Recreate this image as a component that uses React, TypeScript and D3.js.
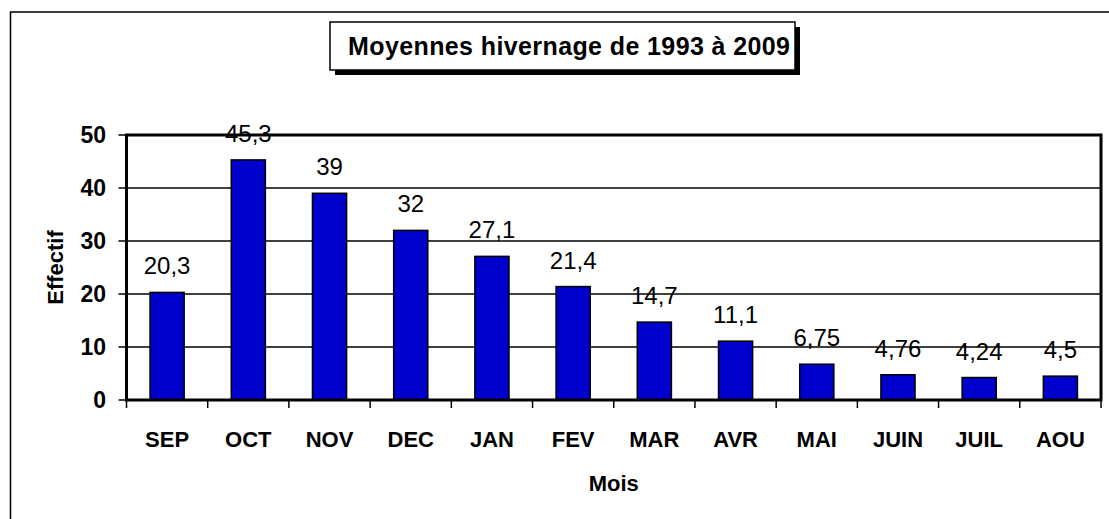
import { useEffect, useRef } from 'react';
import * as d3 from 'd3';

const months = ['SEP', 'OCT', 'NOV', 'DEC', 'JAN', 'FEV', 'MAR', 'AVR', 'MAI', 'JUIN', 'JUIL', 'AOU'];
const values = [20.3, 45.3, 39, 32, 27.1, 21.4, 14.7, 11.1, 6.75, 4.76, 4.24, 4.5];
const valueLabels = ['20,3', '45,3', '39', '32', '27,1', '21,4', '14,7', '11,1', '6,75', '4,76', '4,24', '4,5'];
const yTicks = [0, 10, 20, 30, 40, 50];

const W = 1109;
const H = 519;
const FONT = '"Liberation Sans", Arial, sans-serif';

export default function App() {
  const svgRef = useRef<SVGSVGElement>(null);

  useEffect(() => {
    document.body.style.margin = '0';
    if (!svgRef.current) return;
    const svg = d3.select(svgRef.current);
    svg.selectAll('*').remove();

    const left = 126.5;
    const right = 1101;
    const top = 135;
    const bottom = 400;

    // outer frame
    svg.append('rect')
      .attr('x', 10.5).attr('y', 12)
      .attr('width', W).attr('height', H)
      .attr('fill', '#fff').attr('stroke', '#000').attr('stroke-width', 1.5);

    const x = d3.scaleBand<string>().domain(months).range([left, right]).paddingInner(0.58).paddingOuter(0.29);
    const y = d3.scaleLinear().domain([0, 50]).range([bottom, top]);

    // gridlines
    svg.append('g').selectAll('line')
      .data(yTicks.slice(1, -1))
      .join('line')
      .attr('x1', left).attr('x2', right)
      .attr('y1', d => y(d)).attr('y2', d => y(d))
      .attr('stroke', '#000').attr('stroke-width', 1.5);

    // bars
    svg.append('g').selectAll('rect')
      .data(values)
      .join('rect')
      .attr('x', (_, i) => x(months[i])!)
      .attr('width', x.bandwidth())
      .attr('y', d => y(d))
      .attr('height', d => bottom - y(d))
      .attr('fill', '#0000CC')
      .attr('stroke', '#000')
      .attr('stroke-width', 1.5);

    // plot frame
    svg.append('rect')
      .attr('x', left).attr('y', top)
      .attr('width', right - left).attr('height', bottom - top)
      .attr('fill', 'none').attr('stroke', '#000').attr('stroke-width', 3);

    // y axis ticks + labels
    const yAxis = svg.append('g');
    yTicks.forEach(t => {
      yAxis.append('line')
        .attr('x1', left - 8).attr('x2', left)
        .attr('y1', y(t)).attr('y2', y(t))
        .attr('stroke', '#000').attr('stroke-width', 1.5);
      yAxis.append('text')
        .attr('x', 106).attr('y', y(t))
        .attr('dy', '0.36em')
        .attr('text-anchor', 'end')
        .attr('font-family', FONT).attr('font-weight', 'bold').attr('font-size', 23)
        .text(t);
    });

    // x axis ticks
    const step = x.step();
    const xAxis = svg.append('g');
    d3.range(months.length + 1).forEach(i => {
      const tx = left + i * step;
      xAxis.append('line')
        .attr('x1', tx).attr('x2', tx)
        .attr('y1', bottom).attr('y2', bottom + 8)
        .attr('stroke', '#000').attr('stroke-width', 1.5);
    });
    xAxis.selectAll('text')
      .data(months)
      .join('text')
      .attr('x', d => x(d)! + x.bandwidth() / 2)
      .attr('y', 447)
      .attr('text-anchor', 'middle')
      .attr('font-family', FONT).attr('font-weight', 'bold').attr('font-size', 22)
      .text(d => d);

    // value labels
    svg.append('g').selectAll('text')
      .data(values)
      .join('text')
      .attr('x', (_, i) => x(months[i])! + x.bandwidth() / 2)
      .attr('y', d => y(d) - 18)
      .attr('text-anchor', 'middle')
      .attr('font-family', FONT).attr('font-size', 24)
      .text((_, i) => valueLabels[i]);

    // axis titles
    svg.append('text')
      .attr('x', (left + right) / 2).attr('y', 491)
      .attr('text-anchor', 'middle')
      .attr('font-family', FONT).attr('font-weight', 'bold').attr('font-size', 22)
      .text('Mois');
    svg.append('text')
      .attr('transform', `translate(63, ${(top + bottom) / 2}) rotate(-90)`)
      .attr('text-anchor', 'middle')
      .attr('font-family', FONT).attr('font-weight', 'bold').attr('font-size', 22)
      .text('Effectif');

    // title box with shadow
    svg.append('rect')
      .attr('x', 335).attr('y', 27).attr('width', 465).attr('height', 48)
      .attr('fill', '#000');
    svg.append('rect')
      .attr('x', 330).attr('y', 22).attr('width', 465).attr('height', 48)
      .attr('fill', '#fff').attr('stroke', '#000').attr('stroke-width', 1.5);
    svg.append('text')
      .attr('x', 348).attr('y', 55)
      .attr('font-family', FONT).attr('font-weight', 'bold').attr('font-size', 25)
      .attr('textLength', 442).attr('lengthAdjust', 'spacing')
      .text('Moyennes hivernage de 1993 à 2009');
  }, []);

  return <svg ref={svgRef} width={W} height={H} style={{ display: 'block' }} />;
}
